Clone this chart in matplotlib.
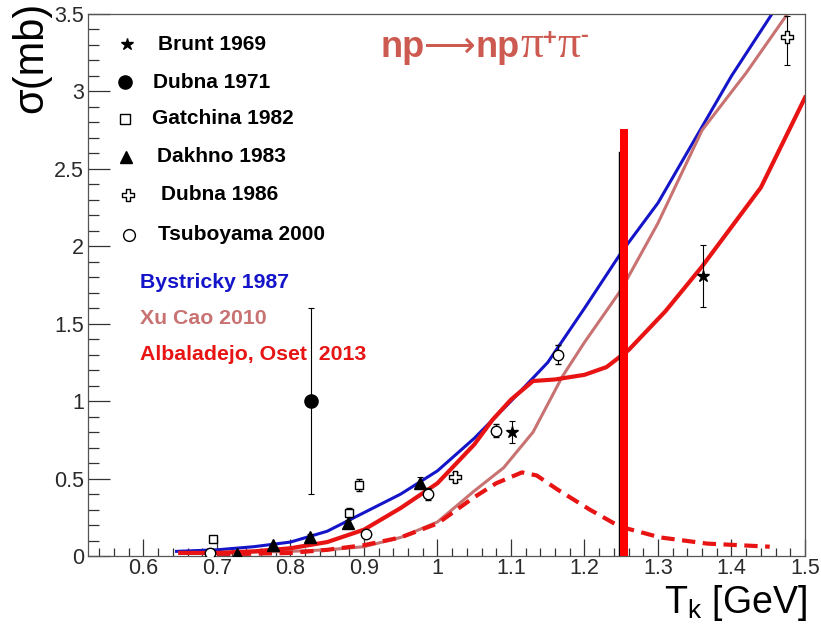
import matplotlib
matplotlib.use("Agg")
import matplotlib.pyplot as plt
import numpy as np
from matplotlib.path import Path
from matplotlib.ticker import MultipleLocator, FuncFormatter

plt.rcParams['font.family'] = ['Liberation Sans', 'DejaVu Sans']
plt.rcParams['mathtext.fontset'] = 'custom'
plt.rcParams['mathtext.rm'] = 'Liberation Sans'
plt.rcParams['mathtext.bf'] = 'Liberation Sans:bold'
plt.rcParams['mathtext.it'] = 'Liberation Serif'

# ---- data points (T_k in GeV, sigma in mb) ----
brunt_x = [1.101, 1.361]
brunt_y = [0.80, 1.81]
brunt_err = [0.07, 0.20]

dubna71_x = [0.828]
dubna71_y = [1.00]
dubna71_err = [0.60]

gatchina_x = [0.695, 0.880, 0.893]
gatchina_y = [0.11, 0.28, 0.46]
gatchina_err = [0.02, 0.03, 0.04]

dakhno_x = [0.727, 0.776, 0.826, 0.878, 0.976]
dakhno_y = [0.01, 0.07, 0.12, 0.21, 0.47]
dakhno_err = [0.01, 0.01, 0.02, 0.02, 0.04]

dubna86_x = [1.024, 1.476]
dubna86_y = [0.51, 3.35]
dubna86_err_lo = [0.03, 0.18]
dubna86_err_hi = [0.03, 0.14]

tsuboyama_x = [0.690, 0.903, 0.987, 1.080, 1.164]
tsuboyama_y = [0.02, 0.14, 0.40, 0.81, 1.30]
tsuboyama_err = [0.01, 0.02, 0.04, 0.04, 0.06]

# ---- model curves ----
bystricky_x = [0.645, 0.70, 0.75, 0.80, 0.85, 0.90, 0.95, 1.00, 1.05, 1.10, 1.15,
               1.20, 1.25, 1.30, 1.35, 1.40, 1.455]
bystricky_y = [0.03, 0.04, 0.06, 0.09, 0.16, 0.28, 0.40, 0.55, 0.76, 1.00, 1.25,
               1.60, 1.96, 2.28, 2.69, 3.10, 3.50]

xucao_x = [0.65, 0.70, 0.80, 0.85, 0.90, 0.95, 1.00, 1.05, 1.09, 1.13, 1.17,
           1.20, 1.25, 1.30, 1.36, 1.42, 1.476]
xucao_y = [0.02, 0.02, 0.03, 0.04, 0.06, 0.12, 0.22, 0.42, 0.57, 0.80, 1.16,
           1.38, 1.72, 2.15, 2.75, 3.12, 3.50]

oset_x = [0.65, 0.70, 0.75, 0.80, 0.85, 0.90, 0.95, 1.00, 1.05, 1.075, 1.10, 1.13,
          1.16, 1.20, 1.23, 1.26, 1.31, 1.36, 1.44, 1.50]
oset_y = [0.02, 0.02, 0.03, 0.05, 0.09, 0.17, 0.31, 0.47, 0.72, 0.88, 1.01, 1.13,
          1.14, 1.17, 1.22, 1.33, 1.58, 1.87, 2.38, 2.96]

oset_part_x = [0.70, 0.80, 0.85, 0.90, 0.95, 1.00, 1.05, 1.08, 1.115, 1.135, 1.163,
               1.207, 1.248, 1.303, 1.367, 1.452]
oset_part_y = [0.01, 0.02, 0.04, 0.07, 0.12, 0.21, 0.38, 0.47, 0.54, 0.52, 0.43,
               0.30, 0.19, 0.12, 0.08, 0.06]

cut_x = 1.254
cut_top = 2.76

exp_labels = ['Brunt 1969', 'Dubna 1971', 'Gatchina 1982', 'Dakhno 1983',
              'Dubna 1986', 'Tsuboyama 2000']
model_labels = ['Bystricky 1987', 'Xu Cao 2010', 'Albaladejo, Oset  2013']

c_blue = '#1414c8'
c_rose = '#c87272'
c_red = '#e81414'
c_title = '#cd5a50'

# open cross marker (ROOT style 28)
w = 0.36
open_cross = Path([(-w, 1), (w, 1), (w, w), (1, w), (1, -w), (w, -w), (w, -1),
                   (-w, -1), (-w, -w), (-1, -w), (-1, w), (-w, w), (-w, 1)],
                  [Path.MOVETO] + [Path.LINETO] * 11 + [Path.CLOSEPOLY])

fig = plt.figure(figsize=(8.21, 6.26), dpi=100)
ax = fig.add_axes([88 / 821, 70 / 626, 717 / 821, 542 / 626])

# curves
ax.plot(bystricky_x, bystricky_y, color=c_blue, lw=2.2, zorder=2)
ax.plot(xucao_x, xucao_y, color=c_rose, lw=2.2, zorder=2)
ax.plot(oset_x, oset_y, color=c_red, lw=3.0, zorder=2)
ax.plot(oset_part_x, oset_part_y, color=c_red, lw=3.0, ls=(0, (3.2, 1.8)), zorder=2)

ebk = dict(ecolor='black', elinewidth=0.8, capsize=2, capthick=0.8, ls='none', zorder=3)
ax.errorbar(brunt_x, brunt_y, yerr=brunt_err, fmt='*', ms=9, mfc='black', mec='black', **ebk)
ax.errorbar(dubna71_x, dubna71_y, yerr=dubna71_err, fmt='o', ms=9.5, mfc='black', mec='black', **ebk)
ax.errorbar(gatchina_x, gatchina_y, yerr=gatchina_err, fmt='s', ms=6, mfc='white', mec='black', mew=1, **ebk)
ax.errorbar(dakhno_x, dakhno_y, yerr=dakhno_err, fmt='^', ms=8, mfc='black', mec='black', **ebk)
ax.errorbar(dubna86_x, dubna86_y, yerr=[dubna86_err_lo, dubna86_err_hi], fmt='none', **ebk)
ax.plot(dubna86_x, dubna86_y, ls='none', marker=open_cross, ms=9, mfc='white', mec='black', mew=1, zorder=4)
ax.errorbar(tsuboyama_x, tsuboyama_y, yerr=tsuboyama_err, fmt='o', ms=7.5, mfc='white', mec='black', mew=1, **ebk)

# threshold marker
ax.plot([cut_x, cut_x], [0, cut_top], color='#ff0000', lw=5.8, solid_capstyle='butt', zorder=6)
ax.plot([cut_x - 0.0065, cut_x - 0.0065], [0, cut_top - 0.15], color='black', lw=1.0, zorder=5)

ax.set_xlim(0.5245, 1.5)
ax.set_ylim(0, 3.5)
ax.xaxis.set_major_locator(MultipleLocator(0.1))
ax.xaxis.set_minor_locator(MultipleLocator(0.02))
ax.yaxis.set_major_locator(MultipleLocator(0.5))
ax.yaxis.set_minor_locator(MultipleLocator(0.1))
fmt = FuncFormatter(lambda v, p: '%g' % round(v, 2))
ax.xaxis.set_major_formatter(fmt)
ax.yaxis.set_major_formatter(fmt)
ax.tick_params(axis='both', which='both', direction='in', labelsize=15.5,
               labelcolor='#2a2a2a', color='#333333', width=0.9)
ax.tick_params(axis='x', which='major', length=12, pad=1.5)
ax.tick_params(axis='x', which='minor', length=6)
ax.tick_params(axis='y', which='major', length=16, pad=3)
ax.tick_params(axis='y', which='minor', length=8)
for s in ax.spines.values():
    s.set_color('#555555')
    s.set_linewidth(0.9)

# legend of the experiments
leg_markers = [dict(marker='*', ms=9, mfc='black', mec='black'),
               dict(marker='o', ms=9.5, mfc='black', mec='black'),
               dict(marker='s', ms=7.5, mfc='white', mec='black', mew=1),
               dict(marker='^', ms=8, mfc='black', mec='black'),
               dict(marker=open_cross, ms=9, mfc='white', mec='black', mew=1),
               dict(marker='o', ms=8.5, mfc='white', mec='black', mew=1)]
leg_px = [(127, 44), (125, 82), (125, 119), (126, 157), (128, 195), (129, 235)]
lab_px = [158, 153, 152, 157, 161, 158]
for lab, mk, (mx, my), lx in zip(exp_labels, leg_markers, leg_px, lab_px):
    ax.plot([(mx - 88) / 717], [(556 - my) / 542], transform=ax.transAxes,
            ls='none', clip_on=False, **mk)
    ax.text((lx - 88) / 717, (556 - my) / 542, lab, transform=ax.transAxes,
            fontsize=15, fontweight='bold', va='center', ha='left')

for lab, col, my in zip(model_labels, [c_blue, c_rose, c_red], [282, 319, 355]):
    ax.text((140 - 88) / 717, (556 - my) / 542, lab, transform=ax.transAxes,
            fontsize=15.3, fontweight='bold', color=col, va='center', ha='left')

# reaction label, written piece by piece (pixels from the top left corner)
title_parts = [('np', dict(fontsize=26, fontweight='bold'), 0),
               ('\u27f6', dict(fontsize=26, family='DejaVu Sans'), 0),
               ('np', dict(fontsize=26, fontweight='bold'), 0),
               ('\u03c0', dict(fontsize=33, family='Liberation Serif'), 0),
               ('+', dict(fontsize=17, fontweight='bold'), 12),
               ('\u03c0', dict(fontsize=33, family='Liberation Serif'), 0),
               ('-', dict(fontsize=17, fontweight='bold'), 15)]
renderer = fig.canvas.get_renderer()
xpos, base = 380, 57
for txt, kw, rise in title_parts:
    t = fig.text(xpos / 821, 1 - (base - rise) / 626, txt, color=c_title,
                 ha='left', va='baseline', **kw)
    xpos = t.get_window_extent(renderer).x1

fig.text(807 / 821, 1 - 613 / 626, r'T$_{\rm k}$ [GeV]', fontsize=27, ha='right', va='baseline')
fig.text(31 / 821, 1 - 2 / 626, '\u03c3(mb)', fontsize=30, ha='center', va='top', rotation=90)

fig.savefig('out.png', dpi=100)
